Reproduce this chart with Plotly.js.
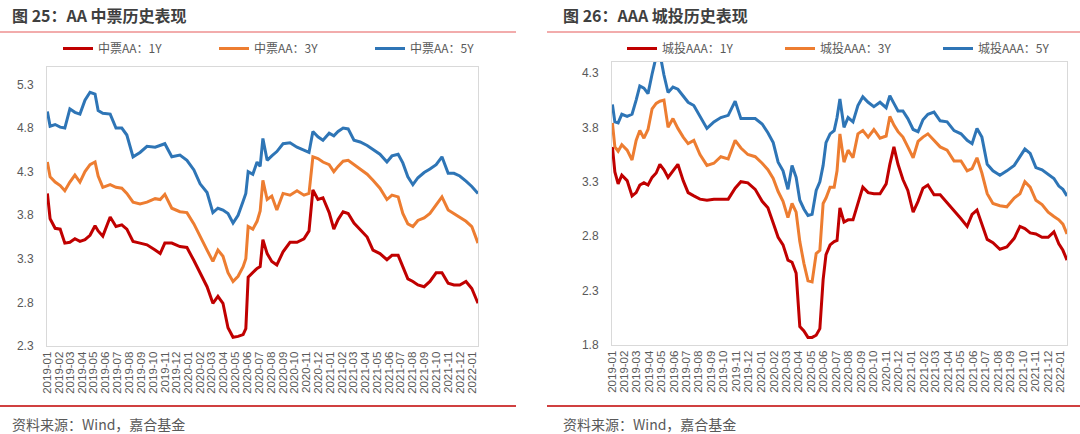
<!DOCTYPE html>
<html>
<head>
<meta charset="utf-8">
<script src="https://cdn.plot.ly/plotly-3.0.1.min.js"></script>
<style>
html,body{margin:0;padding:0;background:#fff;width:1080px;height:434px;overflow:hidden;}
#chart{width:1080px;height:434px;overflow:hidden;}
</style>
</head>
<body>
<div id="chart"></div>
<script>
// ---------- Chart 25: AA 中票 ----------
const datesAA = ['2019-01-02','2019-01-09','2019-01-22','2019-02-04','2019-02-16','2019-03-01','2019-03-14','2019-03-27','2019-04-09','2019-04-22',
'2019-05-05','2019-05-13','2019-05-25','2019-06-13','2019-06-28','2019-07-13','2019-07-26','2019-08-11','2019-08-29','2019-09-16',
'2019-10-07','2019-10-20','2019-11-01','2019-11-19','2019-12-10','2019-12-28','2020-01-15','2020-01-31','2020-02-18','2020-03-04',
'2020-03-17','2020-03-30','2020-04-12','2020-04-25','2020-05-08','2020-05-21','2020-05-28','2020-06-03','2020-06-15','2020-06-26',
'2020-07-04','2020-07-11','2020-07-22','2020-08-03','2020-08-16','2020-09-01','2020-09-19','2020-10-07','2020-10-25','2020-11-07',
'2020-11-17','2020-11-30','2020-12-13','2020-12-29','2021-01-10','2021-01-21','2021-02-03','2021-02-16','2021-03-03','2021-03-19',
'2021-04-06','2021-04-21','2021-05-09','2021-05-27','2021-06-09','2021-06-25','2021-07-07','2021-07-20','2021-08-02','2021-08-15',
'2021-08-31','2021-09-15','2021-10-01','2021-10-16','2021-11-01','2021-11-16','2021-12-01','2021-12-17','2022-01-01','2022-01-17'];

const aa1Y = [4.05,3.76,3.65,3.64,3.48,3.49,3.53,3.50,3.52,3.57,
3.68,3.62,3.56,3.78,3.67,3.69,3.64,3.50,3.48,3.46,
3.40,3.36,3.48,3.48,3.44,3.43,3.28,3.14,2.98,2.79,
2.87,2.79,2.51,2.40,2.41,2.43,2.50,3.09,3.14,3.19,
3.21,3.52,3.36,3.27,3.23,3.38,3.49,3.49,3.53,3.62,
4.09,3.98,4.00,3.83,3.64,3.75,3.84,3.82,3.71,3.63,
3.55,3.40,3.36,3.29,3.34,3.34,3.20,3.07,3.04,3.00,
2.98,3.04,3.14,3.14,3.02,3.00,3.00,3.04,2.96,2.79];

const aa3Y = [4.41,4.24,4.18,4.14,4.08,4.18,4.26,4.18,4.30,4.38,
4.41,4.25,4.12,4.15,4.12,4.11,4.05,3.95,3.93,3.95,
3.99,3.98,4.04,3.88,3.84,3.83,3.70,3.55,3.40,3.27,
3.40,3.33,3.14,3.04,3.10,3.21,3.30,3.67,3.64,3.73,
3.85,4.20,3.98,4.02,3.86,4.05,4.03,4.08,4.03,4.05,
4.47,4.45,4.41,4.38,4.30,4.36,4.42,4.43,4.38,4.33,
4.27,4.20,4.11,3.98,4.03,4.01,3.82,3.70,3.67,3.74,
3.77,3.82,3.92,4.01,3.86,3.82,3.77,3.73,3.67,3.48];

const aa5Y = [4.99,4.82,4.84,4.81,4.80,5.02,4.98,4.96,5.12,5.21,
5.19,5.00,4.97,4.96,4.80,4.80,4.72,4.47,4.52,4.59,
4.58,4.60,4.62,4.47,4.49,4.43,4.32,4.16,4.06,3.83,
3.88,3.86,3.82,3.71,3.80,3.96,4.05,4.30,4.27,4.41,
4.36,4.68,4.43,4.48,4.53,4.62,4.63,4.58,4.55,4.52,
4.76,4.70,4.66,4.74,4.71,4.76,4.80,4.79,4.66,4.64,
4.60,4.55,4.50,4.41,4.48,4.50,4.40,4.24,4.15,4.23,
4.29,4.33,4.38,4.47,4.28,4.28,4.25,4.19,4.13,4.05];

// ---------- Chart 26: AAA 城投 ----------
const datesAAA = ['2019-01-02','2019-01-08','2019-01-16','2019-01-25','2019-02-07','2019-02-19','2019-03-01','2019-03-10','2019-03-20','2019-03-30',
'2019-04-09','2019-04-19','2019-04-28','2019-05-08','2019-05-18','2019-05-30','2019-06-11','2019-06-24','2019-07-06','2019-07-20',
'2019-08-04','2019-08-21','2019-09-07','2019-09-24','2019-10-12','2019-10-29','2019-11-12','2019-11-29','2019-12-17','2020-01-03',
'2020-01-17','2020-01-30','2020-02-11','2020-02-23','2020-03-06','2020-03-16','2020-03-26','2020-04-04','2020-04-14','2020-04-24',
'2020-05-04','2020-05-14','2020-05-23','2020-05-31','2020-06-07','2020-06-17','2020-06-27','2020-07-04','2020-07-11','2020-07-21',
'2020-07-31','2020-08-12','2020-08-24','2020-09-05','2020-09-18','2020-10-02','2020-10-17','2020-11-01','2020-11-10','2020-11-20',
'2020-11-30','2020-12-12','2020-12-24','2021-01-06','2021-01-18','2021-01-30','2021-02-11','2021-02-26','2021-03-13','2021-03-30',
'2021-04-16','2021-05-03','2021-05-18','2021-05-30','2021-06-11','2021-06-23','2021-07-06','2021-07-20','2021-08-06','2021-08-23',
'2021-09-10','2021-09-24','2021-10-06','2021-10-19','2021-11-02','2021-11-17','2021-12-02','2021-12-16','2021-12-28','2022-01-07',
'2022-01-17'];

const aaa1Y = [3.62,3.39,3.28,3.36,3.31,3.17,3.20,3.27,3.29,3.27,
3.34,3.38,3.46,3.41,3.34,3.40,3.46,3.31,3.20,3.17,
3.14,3.13,3.14,3.14,3.14,3.24,3.30,3.29,3.23,3.12,
3.06,2.92,2.79,2.72,2.58,2.56,2.46,1.97,1.93,1.87,
1.87,1.89,1.95,2.40,2.63,2.72,2.75,2.76,3.06,2.93,
2.95,2.95,3.10,3.25,3.20,3.19,3.19,3.28,3.46,3.62,
3.46,3.32,3.22,3.02,3.12,3.24,3.27,3.18,3.18,3.11,
3.03,2.96,2.89,3.00,3.04,2.91,2.77,2.74,2.68,2.70,
2.78,2.89,2.87,2.83,2.82,2.79,2.79,2.84,2.73,2.67,
2.58];

const aaa3Y = [3.84,3.62,3.58,3.64,3.59,3.50,3.68,3.77,3.70,3.78,
3.97,4.02,4.04,4.05,3.80,3.88,3.79,3.71,3.65,3.68,
3.55,3.45,3.47,3.53,3.51,3.68,3.61,3.55,3.53,3.47,
3.41,3.33,3.21,3.12,2.97,3.10,3.02,2.75,2.55,2.39,
2.38,2.64,2.67,3.10,3.15,3.25,3.25,3.40,3.74,3.48,
3.59,3.52,3.74,3.77,3.71,3.78,3.70,3.72,3.90,3.82,
3.76,3.71,3.62,3.52,3.67,3.71,3.74,3.68,3.62,3.59,
3.49,3.49,3.40,3.42,3.52,3.38,3.19,3.10,3.08,3.07,
3.15,3.19,3.30,3.25,3.13,3.09,3.02,2.98,2.95,2.91,
2.82];

const aaa5Y = [4.01,3.85,3.84,3.92,3.90,3.92,4.05,4.18,4.16,4.11,
4.29,4.45,4.48,4.28,4.12,4.17,4.15,4.09,4.03,4.00,
3.90,3.79,3.85,3.89,3.91,4.04,3.88,3.88,3.88,3.83,
3.75,3.66,3.48,3.40,3.23,3.45,3.34,3.13,3.05,2.99,
3.00,3.22,3.30,3.45,3.66,3.74,3.77,3.89,4.06,3.80,
3.89,3.85,4.00,4.08,4.03,3.99,4.03,3.98,4.09,4.02,
3.95,3.95,3.88,3.78,3.76,3.87,3.92,3.94,3.86,3.85,
3.77,3.74,3.68,3.65,3.79,3.71,3.46,3.40,3.36,3.40,
3.45,3.53,3.60,3.56,3.43,3.41,3.37,3.33,3.26,3.23,
3.17];

const namesAA = ['中票AA：1Y','中票AA：3Y','中票AA：5Y'];
const namesAAA = ['城投AAA：1Y','城投AAA：3Y','城投AAA：5Y'];
const colors = ['#C00000','#ED7D31','#2E75B6'];

const titles = ['图 25：AA 中票历史表现','图 26：AAA 城投历史表现'];
const sourceText = '资料来源：Wind，嘉合基金';

const FONT = 'Liberation Sans, Arial, "Noto Sans CJK SC", sans-serif';
const CJK = '"Noto Sans CJK SC", "Liberation Sans", sans-serif';

const widthsAA = [111, 111, 80];
const widthsAAA = [113, 113, 85];

const traces = [];
[aa1Y, aa3Y, aa5Y].forEach((v,i)=>traces.push({
  x: datesAA, y: v, type:'scatter', mode:'lines', name: namesAA[i],
  line:{color:colors[i], width:3}, xaxis:'x', yaxis:'y', legend:'legend', legendwidth: widthsAA[i], hoverinfo:'skip'
}));
[aaa1Y, aaa3Y, aaa5Y].forEach((v,i)=>traces.push({
  x: datesAAA, y: v, type:'scatter', mode:'lines', name: namesAAA[i],
  line:{color:colors[i], width:3}, xaxis:'x2', yaxis:'y2', legend:'legend2', legendwidth: widthsAAA[i], hoverinfo:'skip'
}));

function px(x){return x/1080;}
function py(y){return 1 - y/434;}

const xCommon = {
  type:'date', range:['2019-01-01','2022-01-17'], tick0:'2019-01-01', dtick:'M1',
  tickformat:'%Y-%m', tickangle:-90, showgrid:false, zeroline:false,
  showline:true, mirror:true, linecolor:'#D9D9D9', linewidth:1,
  ticks:'', tickfont:{family:FONT, size:11.5, color:'#595959'}, automargin:false,
  fixedrange:true
};
const yCommon = {
  showgrid:false, zeroline:false, showline:true, mirror:true, linecolor:'#D9D9D9', linewidth:1,
  ticks:'', dtick:0.5, tickformat:'.1f', tickfont:{family:FONT, size:12, color:'#595959'},
  automargin:false, fixedrange:true, ticklabelstandoff:10
};

const layout = {
  width:1080, height:434,
  margin:{l:0,r:0,t:0,b:0,pad:0},
  paper_bgcolor:'#fff', plot_bgcolor:'#fff',
  showlegend:true,
  xaxis: Object.assign({}, xCommon, {domain:[px(47), px(478)], anchor:'y'}),
  yaxis: Object.assign({}, yCommon, {domain:[py(346), py(67)], range:[2.3,5.5], tick0:2.3, anchor:'x'}),
  xaxis2: Object.assign({}, xCommon, {domain:[px(612), px(1067)], anchor:'y2'}),
  yaxis2: Object.assign({}, yCommon, {domain:[py(345), py(62)], range:[1.8,4.4], tick0:1.8, anchor:'x2'}),
  legend:{orientation:'h', x:px(58), y:py(48.5), xanchor:'left', yanchor:'middle',
    bgcolor:'rgba(0,0,0,0)',
    font:{family:CJK, size:12, color:'#595959'}, itemclick:false, itemdoubleclick:false},
  legend2:{orientation:'h', x:px(622), y:py(48.5), xanchor:'left', yanchor:'middle',
    bgcolor:'rgba(0,0,0,0)',
    font:{family:CJK, size:12, color:'#595959'}, itemclick:false, itemdoubleclick:false},
  annotations:[
    {text:'<b>'+titles[0]+'</b>', xref:'paper', yref:'paper', x:px(10), y:py(15.5), xanchor:'left', yanchor:'middle', showarrow:false, font:{family:CJK, size:16, color:'#3F3F3F'}},
    {text:'<b>'+titles[1]+'</b>', xref:'paper', yref:'paper', x:px(561), y:py(15.5), xanchor:'left', yanchor:'middle', showarrow:false, font:{family:CJK, size:16, color:'#3F3F3F'}},
    {text:sourceText, xref:'paper', yref:'paper', x:px(10), y:py(424), xanchor:'left', yanchor:'middle', showarrow:false, font:{family:CJK, size:14, color:'#595959'}},
    {text:sourceText, xref:'paper', yref:'paper', x:px(561), y:py(424), xanchor:'left', yanchor:'middle', showarrow:false, font:{family:CJK, size:14, color:'#595959'}}
  ],
  shapes:[
    {type:'line', xref:'paper', yref:'paper', x0:0, x1:px(516), y0:py(32), y1:py(32), line:{color:'#EE9090', width:1.5}},
    {type:'line', xref:'paper', yref:'paper', x0:px(547), x1:1, y0:py(32), y1:py(32), line:{color:'#EE9090', width:1.5}},
    {type:'line', xref:'paper', yref:'paper', x0:0, x1:px(516), y0:py(406), y1:py(406), line:{color:'#C00000', width:1.5}},
    {type:'line', xref:'paper', yref:'paper', x0:px(547), x1:1, y0:py(406), y1:py(406), line:{color:'#C00000', width:1.5}}
  ]
};

Plotly.newPlot('chart', traces, layout, {staticPlot:true, displayModeBar:false});
</script>
</body>
</html>
